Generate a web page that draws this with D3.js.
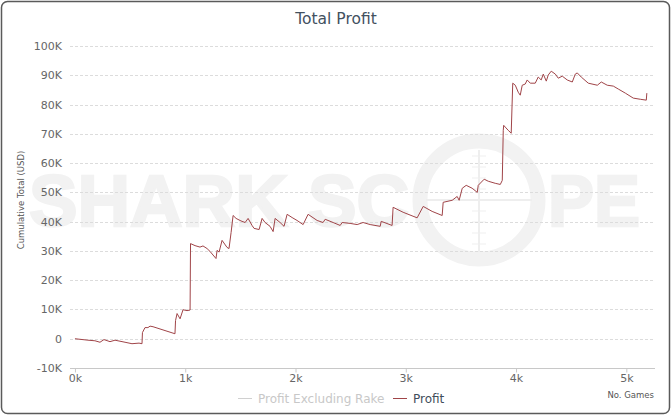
<!DOCTYPE html>
<html>
<head>
<meta charset="utf-8">
<script src="https://cdn.jsdelivr.net/npm/d3@7"></script>
<style>
  body { margin: 0; background: #fff; }
  svg { display: block; font-family: "DejaVu Sans", "Noto Sans", sans-serif; }
</style>
</head>
<body>
<svg id="chart" width="672" height="417"></svg>
<script>
// games played (x) and cumulative profit in USD (y)
const games = [0, 118, 181, 227, 263, 318, 363, 454, 517, 581, 608,
  612, 635, 662, 681, 708, 907, 912, 926, 953, 980, 1016, 1044,
  1048, 1089, 1134, 1161, 1198, 1225, 1279, 1289, 1307, 1334, 1379, 1397, 1416, 1434,
  1461, 1497, 1515, 1543, 1570, 1606, 1624, 1670, 1697, 1724, 1769, 1797, 1815, 1860,
  1896, 1924, 1969, 2014, 2069, 2114, 2196, 2250, 2269, 2341, 2405, 2423, 2495, 2559,
  2613, 2677, 2768, 2777, 2876, 2885, 2976, 3103, 3158, 3239, 3330, 3339, 3421, 3466,
  3484, 3512, 3548, 3602, 3648, 3657, 3711, 3748, 3811, 3857, 3875,
  3884, 3888, 3902, 3929, 3956,
  3970, 3993, 4020, 4038, 4056, 4083, 4101, 4129, 4174, 4201, 4228, 4247, 4274, 4292,
  4319, 4356, 4383, 4419, 4464, 4510, 4537, 4555, 4591, 4655, 4737, 4773, 4827, 4882,
  4927, 4991, 5063, 5127, 5181, 5186]
const profit = [0, -500, -700, -1200, -300, -1000, -500, -1200, -1700, -1500, -1700,
  2100, 3800, 3800, 4300, 4100, 1700, 6200, 8600, 6800, 9900, 9600, 9800,
  32500, 31800, 31300, 31700, 30800, 29800, 27400, 30200, 29600, 33600, 31200, 30800, 36300, 42100,
  41100, 40400, 40100, 39700, 41100, 38700, 37700, 37300, 41100, 39700, 38400, 36600, 41100, 39700,
  38400, 42500, 41400, 40400, 39000, 42500, 40400, 39700, 40800, 39700, 38700, 39700, 39400, 39000,
  39700, 39000, 38400, 40100, 38700, 44900, 43200, 41300, 45200, 43500, 42100, 46600, 47300, 48600,
  47300, 51400, 52400, 51400, 50000, 52400, 54500, 53800, 53100, 52700, 54100,
  71200, 72900, 72300, 71200, 70200,
  87300, 86600, 84200, 83200, 86600, 87000, 88400, 87300, 87300, 89400, 88400, 90400, 88000, 90100,
  91400, 90400, 89000, 89700, 88400, 87700, 90400, 90800, 89400, 87300, 86600, 87700, 86600, 86300,
  85300, 83900, 82200, 81800, 81500, 83900]

const yTicks = [-10000, 0, 10000, 20000, 30000, 40000, 50000, 60000, 70000, 80000, 90000, 100000]
const xTicks = [0, 1000, 2000, 3000, 4000, 5000]
const legendItems = ['Profit Excluding Rake', 'Profit']

const svg = d3.select('#chart')

// frame
svg.append('rect')
  .attr('x', 1.5).attr('y', 1.5)
  .attr('width', 668).attr('height', 412)
  .attr('rx', 6)
  .attr('fill', '#fff')
  .attr('stroke', '#5a5a5a')
  .attr('stroke-width', 1.5)

// set the ranges
const x = d3.scaleLinear().domain([-45, 5260]).range([70, 655])
const y = d3.scaleLinear().domain([-10000, 100000]).range([368, 46])

// watermark
const wm = svg.append('g').attr('fill', '#f2f2f2')
wm.append('text')
  .attr('x', 29).attr('y', 226)
  .attr('font-family', 'Liberation Sans, Arial, sans-serif')
  .attr('font-weight', 'bold')
  .attr('font-size', 72)
  .attr('stroke', '#f2f2f2').attr('stroke-width', 2.5)
  .attr('textLength', 380).attr('lengthAdjust', 'spacingAndGlyphs')
  .text('SHARK SC')
wm.append('text')
  .attr('x', 548).attr('y', 226)
  .attr('font-family', 'Liberation Sans, Arial, sans-serif')
  .attr('font-weight', 'bold')
  .attr('font-size', 72)
  .attr('stroke', '#f2f2f2').attr('stroke-width', 2.5)
  .attr('textLength', 92).attr('lengthAdjust', 'spacingAndGlyphs')
  .text('PE')
wm.append('circle')
  .attr('cx', 479).attr('cy', 200).attr('r', 59)
  .attr('fill', 'none').attr('stroke', '#f2f2f2').attr('stroke-width', 15)
wm.append('line').attr('x1', 479).attr('x2', 479).attr('y1', 150).attr('y2', 252)
  .attr('stroke', '#eeeeee').attr('stroke-width', 2)
wm.append('line').attr('x1', 426).attr('x2', 532).attr('y1', 200).attr('y2', 200)
  .attr('stroke', '#eeeeee').attr('stroke-width', 2)
d3.range(-4, 5).filter(i => i !== 0).forEach(i => {
  wm.append('line').attr('x1', 472).attr('x2', 486)
    .attr('y1', 200 + i * 11).attr('y2', 200 + i * 11)
    .attr('stroke', '#efefef').attr('stroke-width', 1)
})

// grid
svg.append('g')
  .selectAll('line')
  .data(yTicks.filter(d => d > -10000))
  .join('line')
  .attr('x1', 70).attr('x2', 655)
  .attr('y1', d => Math.round(y(d)) + 0.5).attr('y2', d => Math.round(y(d)) + 0.5)
  .attr('stroke', '#dcdcdc')
  .attr('stroke-dasharray', '3,2')

// y axis labels
svg.append('g')
  .selectAll('text')
  .data(yTicks)
  .join('text')
  .attr('x', 62)
  .attr('y', d => y(d) + 4)
  .attr('text-anchor', 'end')
  .attr('font-size', 11)
  .attr('fill', '#666')
  .text(d => d === 0 ? '0' : (d / 1000) + 'K')

// x axis
const xAxis = svg.append('g')
  .attr('transform', 'translate(0,' + (Math.round(y(-10000)) + 0.5) + ')')
  .call(d3.axisBottom(x).tickValues(xTicks).tickSize(4).tickFormat(d => (d / 1000) + 'k'))
xAxis.select('.domain').attr('stroke', '#c8c8c8').attr('d', 'M70,0H655')
xAxis.selectAll('.tick line').attr('stroke', '#c8c8c8')
xAxis.selectAll('.tick text')
  .attr('font-size', 11)
  .attr('fill', '#666')
  .attr('font-family', '"DejaVu Sans", sans-serif')
  .attr('dy', '0.6em')

// titles
svg.append('text')
  .attr('x', 336).attr('y', 24)
  .attr('text-anchor', 'middle')
  .attr('font-size', 15.5)
  .attr('fill', '#43515f')
  .text('Total Profit')

svg.append('text')
  .attr('transform', 'translate(24,200) rotate(-90)')
  .attr('text-anchor', 'middle')
  .attr('font-size', 8.5)
  .attr('fill', '#555')
  .text('Cumulative Total (USD)')

svg.append('text')
  .attr('x', 654).attr('y', 398)
  .attr('text-anchor', 'end')
  .attr('font-size', 8.5)
  .attr('fill', '#555')
  .text('No. Games')

// profit line
const valueline = d3.line()
  .x((d, i) => x(games[i]))
  .y(d => y(d))

svg.append('path')
  .datum(profit)
  .attr('fill', 'none')
  .attr('stroke', '#a04448')
  .attr('stroke-width', 1)
  .attr('stroke-linejoin', 'round')
  .attr('d', valueline)

// legend
const legendColors = ['#d0d0d0', '#a04448']
const legendText = ['#c8c8c8', '#3f4d5b']
const legendX = [238, 393]
const lg = svg.append('g')
legendItems.forEach((name, i) => {
  lg.append('line')
    .attr('x1', legendX[i]).attr('x2', legendX[i] + 14)
    .attr('y1', 398.5).attr('y2', 398.5)
    .attr('stroke', legendColors[i])
  lg.append('text')
    .attr('x', legendX[i] + 20).attr('y', 402.5)
    .attr('font-size', 12)
    .attr('fill', legendText[i])
    .text(name)
})
</script>
</body>
</html>
